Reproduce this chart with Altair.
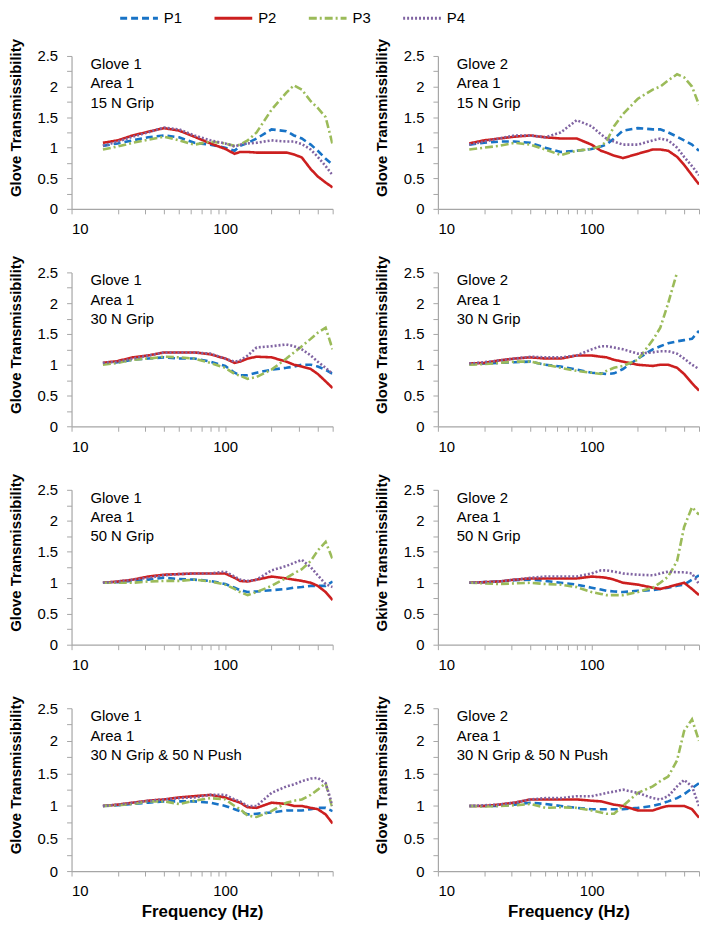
import altair as alt
import pandas as pd

# ---------------- data ----------------
FREQ = [16, 20, 25, 31.5, 40, 50, 63, 80, 100, 115, 125, 140, 160, 200, 250, 280, 315, 360, 400, 450, 500]
SERIES = ["P1", "P2", "P3", "P4"]
COLORS = ["#1873C6", "#CC1F1F", "#9BBB59", "#8064A2"]
DASHES = [[7, 4], [1, 0], [8, 3, 2, 3], [2, 2]]
X_TICKS = [10, 20, 30, 40, 50, 60, 70, 80, 90, 100, 200, 300, 400, 500]
Y_TICKS = [0, 0.25, 0.5, 0.75, 1, 1.25, 1.5, 1.75, 2, 2.25, 2.5]

# Glove 1, 15 N grip
g1_15_p1 = [1.03, 1.07, 1.12, 1.17, 1.2, 1.17, 1.08, 1.05, 1.0, 0.95, 1.03, 1.08, 1.15, 1.3, 1.27, 1.2, 1.15, 1.05, 0.95, 0.82, 0.72]
g1_15_p2 = [1.08, 1.12, 1.2, 1.26, 1.32, 1.28, 1.18, 1.07, 0.98, 0.9, 0.93, 0.93, 0.92, 0.92, 0.92, 0.89, 0.84, 0.65, 0.53, 0.43, 0.35]
g1_15_p3 = [0.97, 1.02, 1.08, 1.13, 1.18, 1.12, 1.05, 1.1, 1.07, 1.03, 1.05, 1.12, 1.25, 1.62, 1.9, 2.02, 1.95, 1.76, 1.65, 1.5, 1.05]
g1_15_p4 = [1.03, 1.1, 1.18, 1.25, 1.33, 1.3, 1.2, 1.12, 1.07, 1.02, 1.05, 1.07, 1.08, 1.12, 1.1, 1.1, 1.06, 0.97, 0.85, 0.7, 0.55]
# Glove 2, 15 N grip
g2_15_p1 = [1.05, 1.08, 1.1, 1.1, 1.08, 1.0, 0.93, 0.95, 0.98, 1.02, 1.05, 1.15, 1.28, 1.32, 1.3, 1.3, 1.25, 1.18, 1.12, 1.05, 0.95]
g2_15_p2 = [1.07, 1.12, 1.15, 1.18, 1.2, 1.17, 1.15, 1.15, 1.05, 0.95, 0.92, 0.87, 0.83, 0.9, 0.97, 0.97, 0.95, 0.85, 0.72, 0.55, 0.4]
g2_15_p3 = [0.97, 1.0, 1.03, 1.08, 1.05, 0.97, 0.88, 0.95, 0.98, 1.03, 1.1, 1.35, 1.55, 1.8, 1.95, 2.0, 2.1, 2.2, 2.15, 2.0, 1.7]
g2_15_p4 = [1.05, 1.1, 1.15, 1.2, 1.2, 1.17, 1.25, 1.45, 1.35, 1.22, 1.15, 1.1, 1.05, 1.05, 1.12, 1.15, 1.12, 1.0, 0.85, 0.7, 0.55]
# Glove 1, 30 N grip
g1_30_p1 = [1.02, 1.04, 1.08, 1.1, 1.12, 1.1, 1.1, 1.05, 0.98, 0.87, 0.83, 0.83, 0.87, 0.92, 0.95, 0.97, 1.0, 1.0, 0.97, 0.92, 0.85]
g1_30_p2 = [1.03, 1.06, 1.12, 1.15, 1.2, 1.2, 1.2, 1.17, 1.1, 1.03, 1.05, 1.1, 1.13, 1.12, 1.05, 1.0, 0.97, 0.93, 0.85, 0.73, 0.62]
g1_30_p3 = [1.0, 1.03, 1.08, 1.1, 1.13, 1.12, 1.1, 1.03, 0.95, 0.85, 0.82, 0.77, 0.8, 0.92, 1.1, 1.2, 1.3, 1.42, 1.52, 1.6, 1.25]
g1_30_p4 = [1.03, 1.05, 1.1, 1.15, 1.2, 1.2, 1.2, 1.18, 1.1, 1.05, 1.07, 1.15, 1.28, 1.3, 1.33, 1.3, 1.25, 1.15, 1.05, 0.95, 0.85]
# Glove 2, 30 N grip
g2_30_p1 = [1.01, 1.02, 1.03, 1.04, 1.05, 1.0, 0.97, 0.92, 0.87, 0.86, 0.85, 0.86, 0.93, 1.1, 1.25, 1.3, 1.35, 1.38, 1.4, 1.42, 1.55]
g2_30_p2 = [1.02, 1.03, 1.07, 1.1, 1.12, 1.1, 1.1, 1.15, 1.15, 1.13, 1.12, 1.08, 1.05, 1.0, 0.98, 1.0, 1.0, 0.95, 0.85, 0.7, 0.58]
g2_30_p3 = [1.0, 1.01, 1.03, 1.05, 1.05, 1.0, 0.95, 0.9, 0.87, 0.85, 0.9, 0.95, 0.98, 1.08, 1.4, 1.6, 2.0, 2.5, None, None, None]
g2_30_p4 = [1.02, 1.04, 1.07, 1.1, 1.13, 1.12, 1.12, 1.15, 1.25, 1.3, 1.3, 1.28, 1.25, 1.18, 1.2, 1.22, 1.22, 1.18, 1.1, 1.0, 0.93]
# Glove 1, 50 N grip
g1_50_p1 = [1.0, 1.01, 1.03, 1.05, 1.08, 1.06, 1.05, 1.03, 0.98, 0.92, 0.88, 0.85, 0.86, 0.88, 0.9, 0.92, 0.93, 0.95, 0.95, 0.95, 1.02]
g1_50_p2 = [1.0, 1.02, 1.05, 1.1, 1.13, 1.14, 1.15, 1.15, 1.15, 1.08, 1.03, 1.02, 1.05, 1.1, 1.07, 1.05, 1.03, 1.0, 0.95, 0.85, 0.72]
g1_50_p3 = [1.0, 1.0, 1.0, 1.02, 1.03, 1.03, 1.05, 1.02, 0.97, 0.9, 0.85, 0.8, 0.85, 0.95, 1.08, 1.15, 1.22, 1.35, 1.52, 1.66, 1.38]
g1_50_p4 = [1.0, 1.02, 1.05, 1.08, 1.12, 1.14, 1.15, 1.15, 1.18, 1.1, 1.05, 1.03, 1.05, 1.2, 1.27, 1.32, 1.37, 1.25, 1.12, 0.98, 0.93]
# Glove 2, 50 N grip
g2_50_p1 = [1.0, 1.01, 1.02, 1.04, 1.05, 1.03, 1.0, 0.97, 0.92, 0.89, 0.87, 0.86, 0.85, 0.87, 0.88, 0.9, 0.92, 0.95, 0.97, 1.05, 1.12]
g2_50_p2 = [1.0, 1.01, 1.02, 1.05, 1.07, 1.07, 1.07, 1.07, 1.1, 1.09, 1.08, 1.05, 1.0, 0.97, 0.92, 0.9, 0.93, 0.97, 1.0, 0.9, 0.8]
g2_50_p3 = [1.0, 0.99, 0.98, 0.99, 1.0, 0.98, 0.97, 0.93, 0.85, 0.82, 0.8, 0.8, 0.8, 0.85, 0.92, 1.0, 1.1, 1.35, 1.9, 2.22, 2.1]
g2_50_p4 = [1.0, 1.01, 1.02, 1.05, 1.08, 1.1, 1.1, 1.1, 1.15, 1.2, 1.2, 1.18, 1.15, 1.13, 1.12, 1.15, 1.18, 1.17, 1.17, 1.15, 0.98]
# Glove 1, 30 N grip & 50 N push
g1_push_p1 = [1.0, 1.01, 1.03, 1.05, 1.07, 1.07, 1.07, 1.05, 1.0, 0.95, 0.92, 0.87, 0.88, 0.9, 0.93, 0.93, 0.93, 0.95, 0.97, 0.97, 0.92]
g1_push_p2 = [1.0, 1.02, 1.05, 1.08, 1.1, 1.13, 1.15, 1.17, 1.13, 1.08, 1.05, 0.98, 0.97, 1.05, 1.03, 1.0, 1.0, 0.97, 0.95, 0.87, 0.73]
g1_push_p3 = [1.0, 1.01, 1.03, 1.07, 1.07, 1.03, 1.08, 1.12, 1.1, 1.0, 0.95, 0.85, 0.83, 0.92, 1.05, 1.08, 1.1, 1.17, 1.25, 1.35, 0.95]
g1_push_p4 = [1.0, 1.02, 1.05, 1.08, 1.1, 1.12, 1.13, 1.17, 1.17, 1.1, 1.07, 1.0, 1.0, 1.2, 1.3, 1.33, 1.38, 1.42, 1.43, 1.35, 1.0]
# Glove 2, 30 N grip & 50 N push
g2_push_p1 = [1.0, 1.0, 1.0, 1.02, 1.05, 1.03, 1.0, 0.97, 0.95, 0.95, 0.95, 0.95, 0.95, 0.97, 1.0, 1.03, 1.07, 1.12, 1.18, 1.27, 1.35]
g2_push_p2 = [1.0, 1.0, 1.02, 1.05, 1.1, 1.1, 1.1, 1.1, 1.08, 1.07, 1.05, 1.02, 1.0, 0.93, 0.93, 0.97, 1.0, 1.0, 1.0, 0.95, 0.82]
g2_push_p3 = [1.0, 0.99, 1.0, 1.01, 1.03, 0.97, 0.98, 0.97, 0.93, 0.9, 0.88, 0.88, 1.0, 1.2, 1.3, 1.38, 1.45, 1.7, 2.15, 2.33, 2.0]
g2_push_p4 = [1.0, 1.01, 1.02, 1.05, 1.1, 1.12, 1.12, 1.15, 1.15, 1.18, 1.2, 1.22, 1.25, 1.2, 1.12, 1.1, 1.15, 1.3, 1.4, 1.3, 1.0]

LABELS = [
    ["Glove 1", "Area 1", "15 N Grip"],
    ["Glove 2", "Area 1", "15 N Grip"],
    ["Glove 1", "Area 1", "30 N Grip"],
    ["Glove 2", "Area 1", "30 N Grip"],
    ["Glove 1", "Area 1", "50 N Grip"],
    ["Glove 2", "Area 1", "50 N Grip"],
    ["Glove 1", "Area 1", "30 N Grip & 50 N Push"],
    ["Glove 2", "Area 1", "30 N Grip & 50 N Push"],
]
Y_TITLES = ["Glove Transmissibility"] * 5 + ["Gkive Transmissibility"] + ["Glove Transmissibility"] * 2
X_TITLE = "Frequency  (Hz)"

PANEL_DATA = [
    [g1_15_p1, g1_15_p2, g1_15_p3, g1_15_p4],
    [g2_15_p1, g2_15_p2, g2_15_p3, g2_15_p4],
    [g1_30_p1, g1_30_p2, g1_30_p3, g1_30_p4],
    [g2_30_p1, g2_30_p2, g2_30_p3, g2_30_p4],
    [g1_50_p1, g1_50_p2, g1_50_p3, g1_50_p4],
    [g2_50_p1, g2_50_p2, g2_50_p3, g2_50_p4],
    [g1_push_p1, g1_push_p2, g1_push_p3, g1_push_p4],
    [g2_push_p1, g2_push_p2, g2_push_p3, g2_push_p4],
]

# ---------------- layout ----------------
FONT = "Liberation Sans"
PANEL_W = 263
ROW_H = [154, 155, 156, 164]
COLOR_SCALE = alt.Scale(domain=SERIES, range=COLORS)
DASH_SCALE = alt.Scale(domain=SERIES, range=DASHES)


def legend_layers():
    ldf = pd.DataFrame({"series": SERIES})
    base = alt.Chart(ldf).transform_calculate(
        i="indexof(['P1', 'P2', 'P3', 'P4'], datum.series)"
    ).transform_calculate(
        x0="49 + datum.i * 95", x1="49 + datum.i * 95 + 38", xt="49 + datum.i * 95 + 44"
    )
    sym = base.mark_rule(strokeWidth=3).encode(
        x=alt.X("x0:Q", scale=None, axis=None),
        x2="x1:Q",
        y=alt.value(-38),
        color=alt.Color("series:N", scale=COLOR_SCALE, legend=None),
        strokeDash=alt.StrokeDash("series:N", scale=DASH_SCALE, legend=None),
    )
    lab = base.mark_text(
        align="left", baseline="middle", fontSize=15, font=FONT, color="#000000"
    ).encode(
        x=alt.X("xt:Q", scale=None, axis=None),
        y=alt.value(-38),
        text="series:N",
    )
    return [sym, lab]


def panel(idx, row):
    recs = []
    for s, vals in zip(SERIES, PANEL_DATA[idx]):
        for f, v in zip(FREQ, vals):
            if v is not None:
                recs.append({"freq": f, "value": v, "series": s})
    df = pd.DataFrame(recs)
    h = ROW_H[row]
    bottom = row == 3

    x_axis = alt.Axis(
        values=X_TICKS,
        labelExpr="indexof([10, 100], datum.value) >= 0 ? format(datum.value, 'd') : ''",
        tickSize=5, labelPadding=8, grid=False,
        title=X_TITLE if bottom else None,
        titleFontSize=17, titlePadding=5,
    )
    y_axis = alt.Axis(
        values=Y_TICKS,
        labelExpr="(datum.value * 4) % 2 == 0 ? format(datum.value, '~g') : ''",
        tickSize=5, labelPadding=9, grid=False,
        title=Y_TITLES[idx], titleFontSize=15, titlePadding=14,
        titleY=h / 2 - 15,
    )
    lines = alt.Chart(df).mark_line(strokeWidth=2.6, clip=True).encode(
        x=alt.X("freq:Q", scale=alt.Scale(type="log", domain=[10, 500], nice=False), axis=x_axis),
        y=alt.Y("value:Q", scale=alt.Scale(domain=[0, 2.5], nice=False), axis=y_axis),
        color=alt.Color("series:N", scale=COLOR_SCALE, legend=None),
        strokeDash=alt.StrokeDash("series:N", scale=DASH_SCALE, legend=None),
        order=alt.Order("freq:Q"),
    )
    tdf = pd.DataFrame({"label": ["\n".join(LABELS[idx])]})
    text = alt.Chart(tdf).mark_text(
        align="left", baseline="top", fontSize=15, font=FONT, color="#000000",
        lineBreak="\n", lineHeight=19.5,
    ).encode(x=alt.value(19), y=alt.value(1), text="label:N")
    layers = [lines, text]
    if idx == 0:
        layers += legend_layers()
    return alt.layer(*layers).properties(width=PANEL_W, height=h)


panels = [panel(i, i // 2) for i in range(8)]

chart = alt.concat(
    *panels, columns=2, spacing={"row": 64, "column": 106}, bounds="flush"
).properties(
    padding={"left": 0, "right": 0, "top": 0, "bottom": 0}
).configure_view(stroke=None).configure_axis(
    domainColor="#A6A6A6", tickColor="#A6A6A6", domainWidth=1.2,
    labelFont=FONT, labelFontSize=15, labelColor="#000000",
    titleFont=FONT, titleFontWeight="bold", titleColor="#000000",
)

chart.save("out.html", embed_options={"renderer": "svg", "actions": False})
